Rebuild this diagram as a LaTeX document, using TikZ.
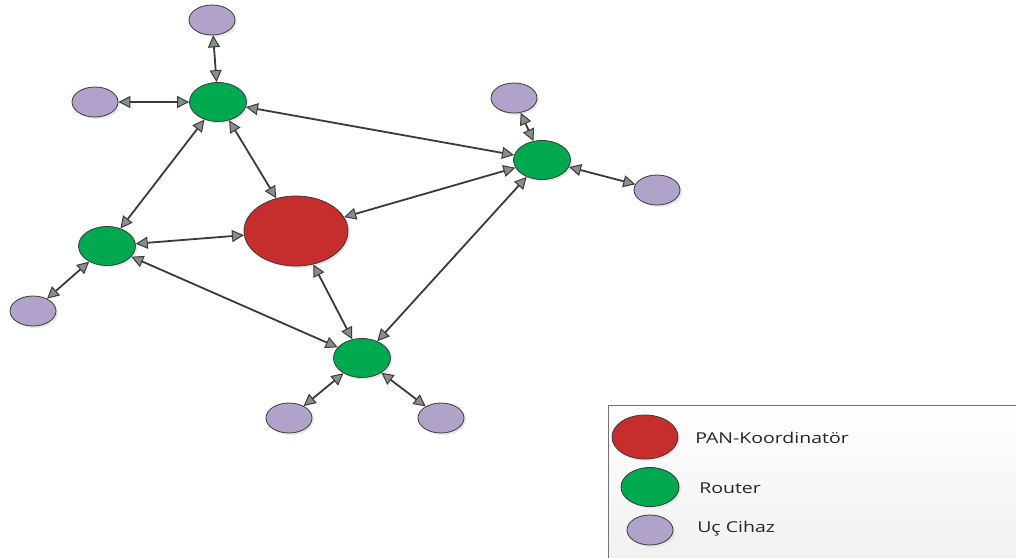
\documentclass[tikz,border=0pt]{standalone}
\usepackage{fontspec}
\setmainfont{Open Sans}
\usetikzlibrary{arrows.meta,shadows,shapes.geometric}
\definecolor{pancol}{HTML}{C62E2E}
\definecolor{routercol}{HTML}{00A84F}
\definecolor{devcol}{HTML}{B0A2C8}
\definecolor{linkcol}{HTML}{3A3A3A}
\tikzset{
  dev/.style={ellipse, draw=linkcol, line width=0.8pt, fill=devcol, minimum width=46pt, minimum height=30pt, inner sep=0pt,
    drop shadow={shadow xshift=2pt, shadow yshift=-2pt, fill=black!15, opacity=0.6}},
  router/.style={ellipse, draw=linkcol, line width=0.8pt, fill=routercol, minimum width=57pt, minimum height=39pt, inner sep=0pt,
    drop shadow={shadow xshift=2pt, shadow yshift=-2pt, fill=black!15, opacity=0.6}},
  pan/.style={ellipse, draw=linkcol, line width=0.8pt, fill=pancol, minimum width=104pt, minimum height=70pt, inner sep=0pt,
    drop shadow={shadow xshift=2pt, shadow yshift=-2pt, fill=black!15, opacity=0.6}},
  link/.style={draw=linkcol, line width=1.8pt,
    {Triangle[length=12pt, width=12pt, fill=black!45, line width=1pt]}-{Triangle[length=12pt, width=12pt, fill=black!45, line width=1pt]}},
  legendtext/.style={anchor=west, font=\fontsize{15}{18}\selectfont, text=black!85, inner sep=0pt, xscale=1.3}
}
\begin{document}
\begin{tikzpicture}[x=1pt,y=-1pt]
\useasboundingbox (0,0) rectangle (1016,557);
\fill[white] (0,0) rectangle (1016,557);

% network nodes
\node[pan] (pan) at (296,231) {};
\node[router] (ra) at (218,102) {};
\node[router] (rb) at (542,160) {};
\node[router] (rc) at (107,246) {};
\node[router] (rd) at (362,358) {};
\node[dev] (d1) at (212,20) {};
\node[dev] (d2) at (95,102) {};
\node[dev] (d3) at (514,98) {};
\node[dev] (d4) at (657,190) {};
\node[dev] (d5) at (33,311) {};
\node[dev] (d6) at (289,418) {};
\node[dev] (d7) at (441,418) {};

% links
\draw[link] (d1) -- (ra);
\draw[link] (d2) -- (ra);
\draw[link] (ra) -- (rb);
\draw[link] (ra) -- (rc);
\draw[link] (ra) -- (pan);
\draw[link] (d3) -- (rb);
\draw[link] (rb) -- (d4);
\draw[link] (rb) -- (pan);
\draw[link] (rb) -- (rd);
\draw[link] (rc) -- (pan);
\draw[link] (rc) -- (d5);
\draw[link] (rc) -- (rd);
\draw[link] (pan) -- (rd);
\draw[link] (rd) -- (d6);
\draw[link] (rd) -- (d7);

% legend
\node[draw=black!55, line width=0.8pt, top color=white, bottom color=black!6, minimum width=410pt, minimum height=160pt, anchor=north west, inner sep=0pt] (legend) at (607.5,404.5) {};
\node[pan, minimum width=66pt, minimum height=44pt] (lpan) at (645,437) {};
\node[router, minimum width=58pt, minimum height=39pt] (lrouter) at (650,487) {};
\node[dev] (ldev) at (650,530) {};
\node[legendtext] (tpan) at (695,437.5) {PAN-Koordinatör};
\node[legendtext] (trouter) at (699,488) {Router};
\node[legendtext] (tdev) at (697,529) {Uç Cihaz};
\end{tikzpicture}
\end{document}
